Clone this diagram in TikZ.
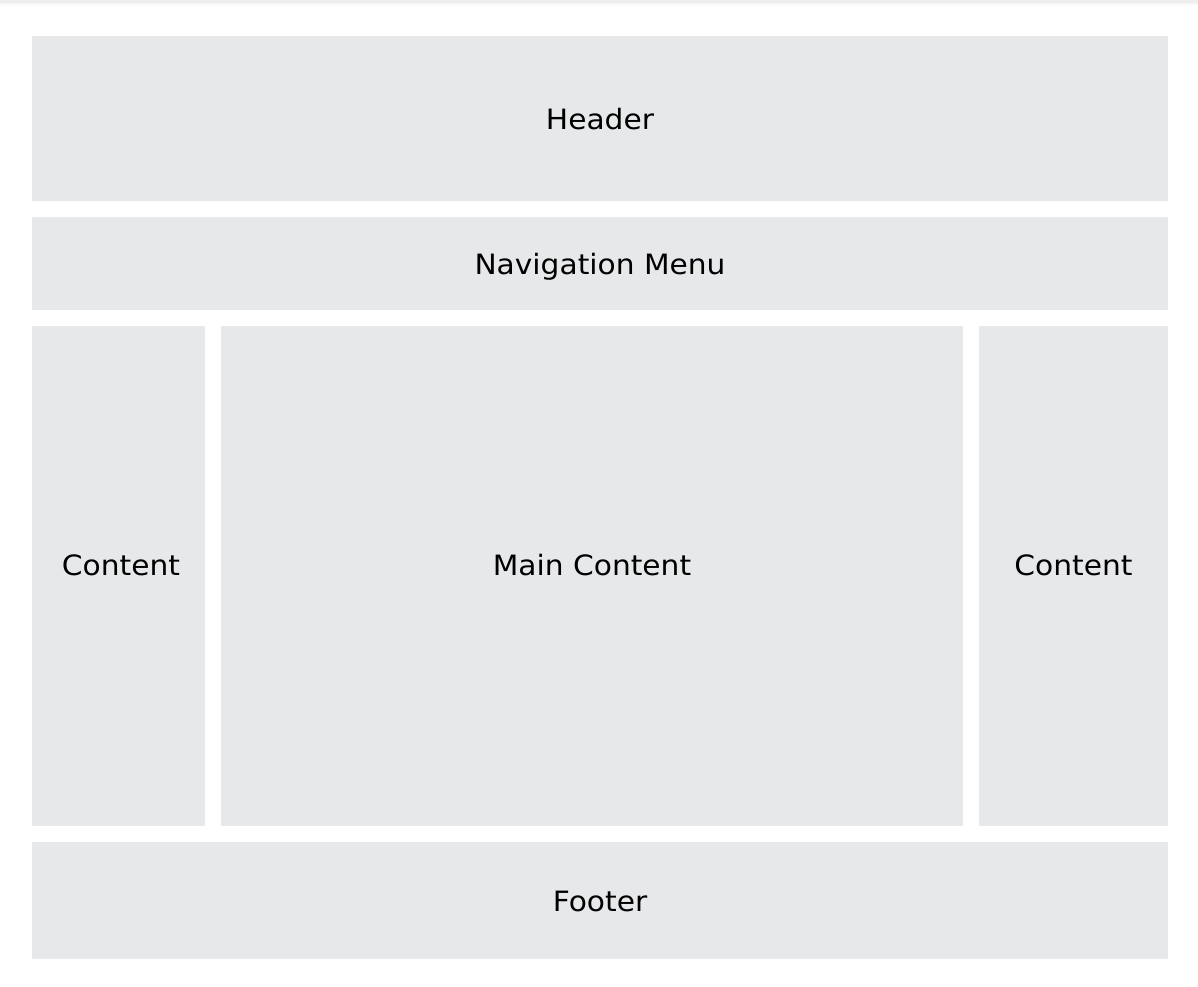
\documentclass[tikz,border=0pt]{standalone}
\usepackage{fontspec}
\setmainfont{DejaVu Sans}[FakeStretch=1.06]
\definecolor{boxgray}{HTML}{E7E8EA}
\definecolor{topgray}{HTML}{EEEEEE}
\tikzset{
  region/.style={fill=boxgray, draw=none, inner sep=0pt, outer sep=0pt, rectangle},
  label text/.style={inner sep=0pt, font=\fontsize{28}{32}\selectfont, text=black,
    text height=20.4pt, text depth=0pt},
}
\begin{document}
\begin{tikzpicture}[x=1pt,y=-1pt]
\useasboundingbox (0,0) rectangle (1198,986);
\fill[white] (0,0) rectangle (1198,986);
\shade[top color=topgray, bottom color=white] (0,0) rectangle (1198,6);
\fill[topgray] (0,0) rectangle (1198,3);
\node[region, minimum width=1136pt, minimum height=165pt] (header) at (600,118.5) {};
\node[label text] (headertext) at (600,119) {Header};
\node[region, minimum width=1136pt, minimum height=93pt] (nav) at (600,263.5) {};
\node[label text] (navtext) at (600,264) {Navigation Menu};
\node[region, minimum width=173pt, minimum height=500pt] (left) at (118.5,576) {};
\node[label text] (lefttext) at (121,565) {Content};
\node[region, minimum width=742pt, minimum height=500pt] (main) at (592,576) {};
\node[label text] (maintext) at (592,565) {Main Content};
\node[region, minimum width=189pt, minimum height=500pt] (right) at (1073.5,576) {};
\node[label text] (righttext) at (1073.5,565) {Content};
\node[region, minimum width=1136pt, minimum height=117pt] (footer) at (600,900.5) {};
\node[label text] (footertext) at (600,901) {Footer};
\end{tikzpicture}
\end{document}
